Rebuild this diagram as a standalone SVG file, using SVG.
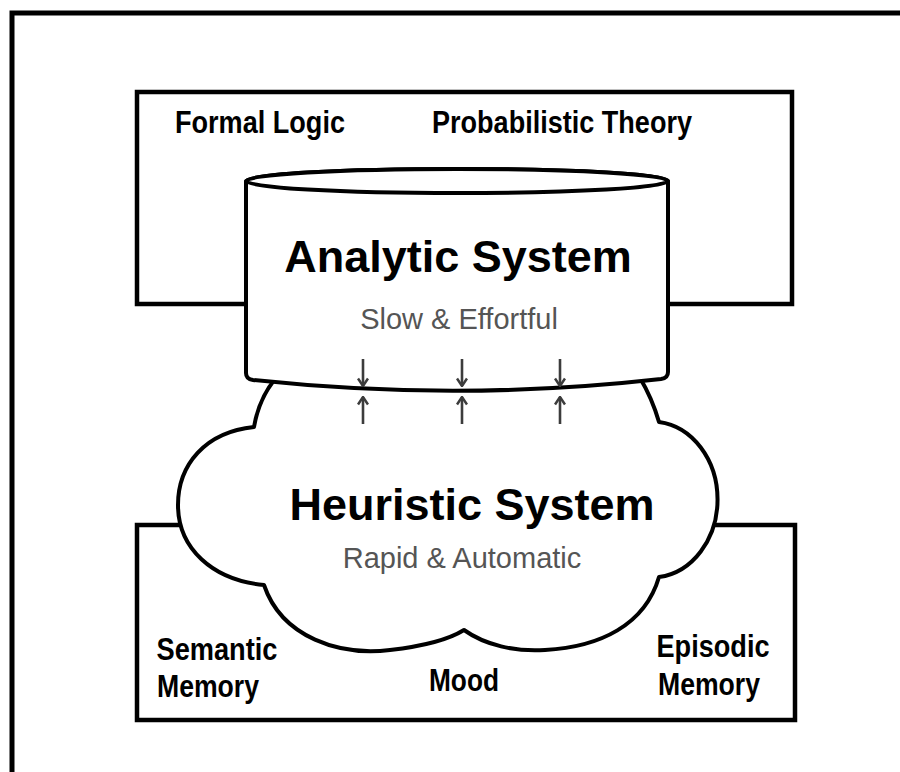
<svg xmlns="http://www.w3.org/2000/svg" width="900" height="772" viewBox="0 0 900 772">
<style>
.frame{fill:none;stroke:#000;stroke-width:5}
.box{fill:#fff;stroke:#000;stroke-width:4.5}
.shape{fill:#fff;stroke:#000;stroke-width:4;stroke-linejoin:round}
.lbl{font-family:"Liberation Sans Narrow","Liberation Sans",Arial,sans-serif;font-weight:bold;font-size:31px;fill:#000;text-anchor:middle}
.title{font-family:"Liberation Sans",Arial,sans-serif;font-weight:bold;font-size:45px;fill:#000;text-anchor:middle}
.sub{font-family:"Liberation Sans",Arial,sans-serif;font-size:29px;fill:#555;text-anchor:middle}
.arr{fill:none;stroke:#3c3c3c;stroke-width:2.6;marker-end:url(#head)}
</style>
<defs>
<marker id="head" viewBox="0 0 10 12" refX="9" refY="6" markerWidth="10" markerHeight="12" markerUnits="userSpaceOnUse" orient="auto">
<path d="M1.5,1 L9,6 L1.5,11" fill="none" stroke="#3c3c3c" stroke-width="2.5"/>
</marker>
</defs>
<rect id="frame" class="frame" x="12" y="13" width="900" height="800"/>
<g id="formal-box">
<rect class="box" x="137" y="92" width="655" height="212"/>
<text class="lbl" x="260" y="133" textLength="170" lengthAdjust="spacingAndGlyphs">Formal Logic</text>
<text class="lbl" x="562" y="133" textLength="260" lengthAdjust="spacingAndGlyphs">Probabilistic Theory</text>
</g>
<g id="memory-box">
<rect class="box" x="137" y="525" width="658" height="195"/>
<text class="lbl" x="217" y="660" textLength="121" lengthAdjust="spacingAndGlyphs">Semantic</text>
<text class="lbl" x="208" y="697" textLength="102" lengthAdjust="spacingAndGlyphs">Memory</text>
<text class="lbl" x="464" y="691" textLength="70" lengthAdjust="spacingAndGlyphs">Mood</text>
<text class="lbl" x="713" y="657" textLength="113" lengthAdjust="spacingAndGlyphs">Episodic</text>
<text class="lbl" x="709" y="695" textLength="102" lengthAdjust="spacingAndGlyphs">Memory</text>
</g>
<g id="heuristic-system">
<path class="shape" d="M 276,378 Q 259,398 254,427 C 205,432 178,465 178,505 C 178,548 212,580 264,585 C 282,638 340,656 390,650 C 425,646 448,640 464,630 C 485,645 515,652 545,650 C 600,647 645,625 659,577 A 66,78 0 0 0 659,422 Q 652,398 640,378 Z"/>
<text class="title" x="472" y="520">Heuristic System</text>
<text class="sub" x="462" y="568" font-size="30.5">Rapid &amp; Automatic</text>
</g>
<g id="analytic-system">
<path class="shape" d="M 246,181 L 246,373 Q 246,379 253,380 Q 458,402 661,379 Q 668,378 668,372 L 668,181 A 211,12 0 0 0 246,181 Z"/>
<ellipse class="shape" cx="457" cy="181" rx="211" ry="12"/>
<text class="title" x="458" y="272">Analytic System</text>
<text class="sub" x="459" y="329">Slow &amp; Effortful</text>
</g>
<g id="connectors">
<path class="arr" d="M363,359 L363,386"/>
<path class="arr" d="M462,359 L462,386"/>
<path class="arr" d="M560,359 L560,386"/>
<path class="arr" d="M363,424 L363,397"/>
<path class="arr" d="M462,424 L462,397"/>
<path class="arr" d="M560,424 L560,397"/>
</g>
</svg>
